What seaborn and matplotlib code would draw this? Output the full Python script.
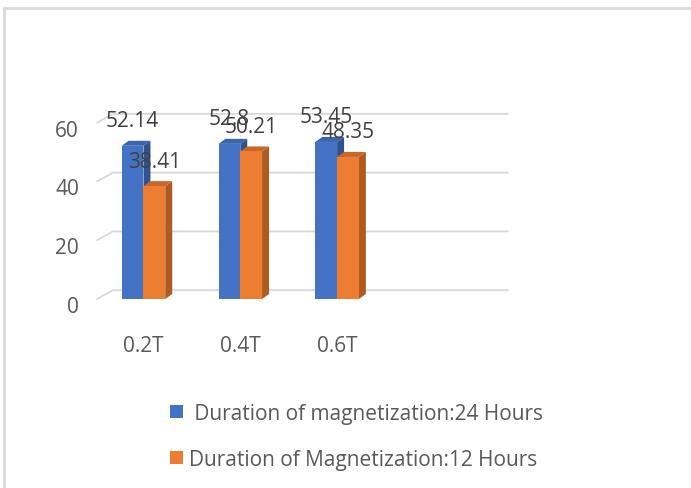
import matplotlib
matplotlib.use("Agg")
import matplotlib.pyplot as plt
import matplotlib.transforms as mtransforms
import seaborn as sns
import pandas as pd
from matplotlib.patches import Polygon, Patch
from matplotlib.lines import Line2D

categories = ["0.2T", "0.4T", "0.6T"]
series_names = [" Duration of magnetization:24 Hours", "Duration of Magnetization:12 Hours"]
values_24h = [52.14, 52.8, 53.45]
values_12h = [38.41, 50.21, 48.35]
yticks = [0, 20, 40, 60]

front_colors = ["#4472C4", "#ED7D31"]
side_colors = ["#2F528F", "#AE5A21"]
top_colors = ["#3A64AE", "#C9672A"]

sns.set_theme(style="white")
plt.rcParams["font.family"] = ["Open Sans", "DejaVu Sans"]

df = pd.DataFrame({
    "cat": categories * 2,
    "series": [series_names[0]] * 3 + [series_names[1]] * 3,
    "value": values_24h + values_12h,
})

W, H = 691, 489
FS = 15
fig = plt.figure(figsize=(W / 100, H / 100), dpi=100)
ax = fig.add_axes([97 / W, (H - 300) / H, 395 / W, 191 / H])

sns.barplot(data=df, x="cat", y="value", hue="series", palette=front_colors,
            width=0.45, ax=ax, linewidth=0, saturation=1, legend=False, zorder=3)

ax.set_xlim(-0.48, 3.6)
ax.set_ylim(0, 65)

# 3D depth offsets in data units
ddx_bar, ddy_bar = 0.072, 1.7
ddx_grid, ddy_grid = 0.165, 3.0

x_left, x_right = ax.get_xlim()
for v in yticks:
    ax.add_line(Line2D([x_left, x_left + ddx_grid, x_right + ddx_grid], [v, v + ddy_grid, v + ddy_grid],
                       color="#D9D9D9", lw=1.3, zorder=1, clip_on=False))

patches = [p for p in ax.patches]
for i, p in enumerate(patches):
    s = i // 3
    x, w, h = p.get_x(), p.get_width(), p.get_height()
    if h <= 0:
        continue
    side = Polygon([(x + w, 0), (x + w + ddx_bar, ddy_bar), (x + w + ddx_bar, h + ddy_bar), (x + w, h)],
                   closed=True, facecolor=side_colors[s], edgecolor="none", zorder=2 + 0.5 * s)
    top = Polygon([(x, h), (x + ddx_bar, h + ddy_bar), (x + w + ddx_bar, h + ddy_bar), (x + w, h)],
                  closed=True, facecolor=top_colors[s], edgecolor="none", zorder=2 + 0.5 * s)
    ax.add_patch(side)
    ax.add_patch(top)
    ax.annotate(f"{h:g}", (x + w / 2, h), xytext=(0, 18), textcoords="offset points",
                ha="center", va="center", fontsize=FS, color="#404040", zorder=5,
                annotation_clip=False)

ax.set_yticks(yticks)
ax.set_xlabel("")
ax.set_ylabel("")
ax.tick_params(axis="y", length=0, pad=13, labelsize=FS, labelcolor="#595959")
ax.tick_params(axis="x", length=0, pad=26, labelsize=FS, labelcolor="#595959")
for sp in ax.spines.values():
    sp.set_visible(False)
shift = mtransforms.ScaledTranslation(0, -5 / 100, fig.dpi_scale_trans)
for t in ax.get_yticklabels():
    t.set_transform(t.get_transform() + shift)

handles = [Patch(facecolor=c, edgecolor="none") for c in front_colors]
fig.legend(handles, series_names, loc="upper left", bbox_to_anchor=(170 / W, 1 - 404 / H),
           frameon=False, fontsize=FS, labelcolor="#595959", handlelength=0.63, handleheight=0.63,
           handletextpad=0.3, labelspacing=1.2, borderpad=0, borderaxespad=0)

# outer border (top and left only visible)
fig.add_artist(Line2D([4 / W, 1.0], [1 - 9 / H, 1 - 9 / H], transform=fig.transFigure, color="#D9D9D9", lw=2))
fig.add_artist(Line2D([4 / W, 4 / W], [0, 1 - 9 / H], transform=fig.transFigure, color="#D9D9D9", lw=2))

fig.savefig("out.png", dpi=100)
